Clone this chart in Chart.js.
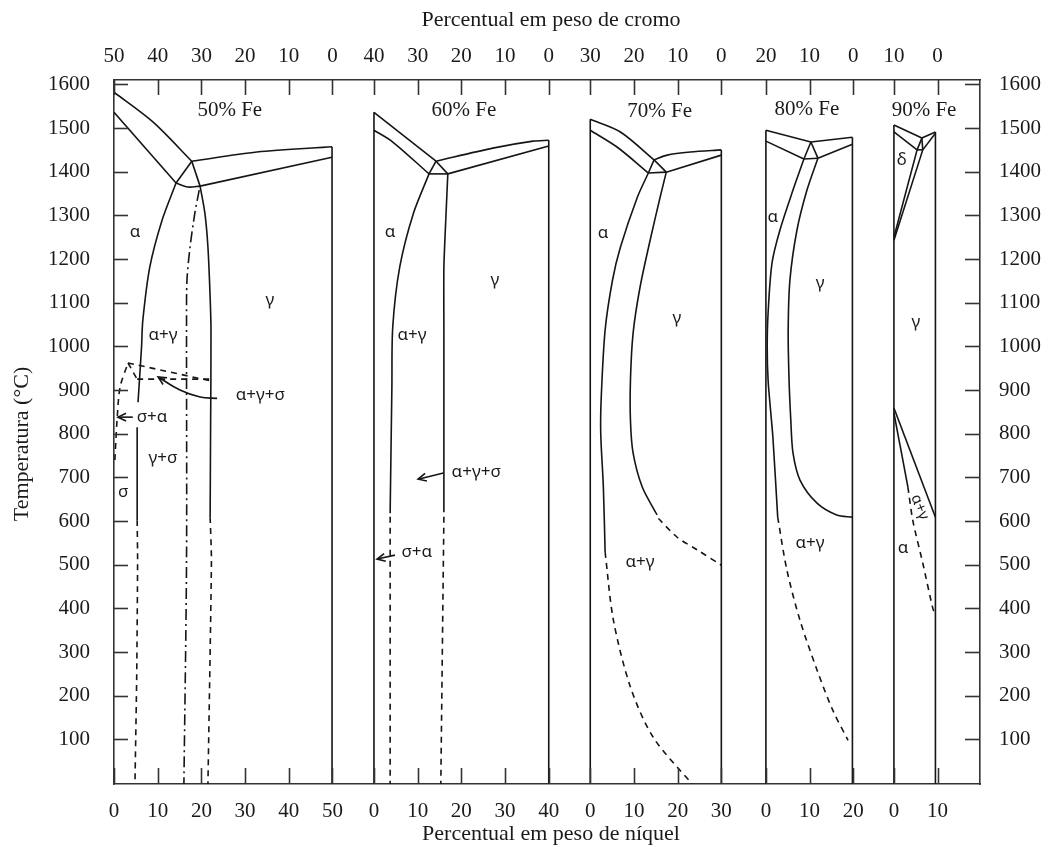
<!DOCTYPE html>
<html>
<head>
<meta charset="utf-8">
<script src="https://cdn.jsdelivr.net/npm/chart.js@4.4.0/dist/chart.umd.min.js"></script>
<style>
  html, body { margin: 0; padding: 0; background: #fff; }
  canvas { display: block; }
</style>
</head>
<body>
<canvas id="chart" width="1054" height="847"></canvas>
<script>
// panels share one x axis, each panel starts at its own offset (Ni units)
const panelOffset = [0, 59.5, 109, 149.2, 178.5];
const panelTitles = ['50% Fe', '60% Fe', '70% Fe', '80% Fe', '90% Fe'];
const niTickValues = [[0, 10, 20, 30, 40, 50], [0, 10, 20, 30, 40], [0, 10, 20, 30], [0, 10, 20], [0, 10]];
const crTickValues = [[50, 40, 30, 20, 10, 0], [40, 30, 20, 10, 0], [30, 20, 10, 0], [20, 10, 0], [10, 0]];
const crTotal = [50, 40, 30, 20, 10];
const tempTicks = [100, 200, 300, 400, 500, 600, 700, 800, 900, 1000, 1100, 1200, 1300, 1400, 1500, 1600];

// [Ni %, T °C]
// 50% Fe
const fe50_liqL = [[0, 1582], [8.9, 1514], [17.8, 1424]];
const fe50_solL = [[0, 1536], [14.2, 1374]];
const fe50_liqR = [[17.8, 1424], [32.7, 1445], [49.9, 1457]];
const fe50_solR = [[19.7, 1367], [49.9, 1433]];
const fe50_tie = [[14.2, 1374], [16.9, 1365], [19.7, 1367]];
const fe50_triL = [[17.8, 1424], [14.2, 1374]];
const fe50_triR = [[17.8, 1424], [19.7, 1367]];
const fe50_edge = [[49.9, 1457], [49.9, -2]];
const fe50_alphaA = [[14.2, 1374], [11, 1289], [8.2, 1182], [6.6, 1060], [6.3, 998], [5.5, 872]];
const fe50_alphaB = [[5.3, 815], [5.3, 602]];
const fe50_alphaDash = [[5.3, 602], [5.4, 510], [5.2, 250], [4.8, -2]];
const fe50_gamma = [[19.7, 1367], [20.8, 1305], [21.5, 1227], [22, 1113], [22.2, 1037], [22.1, 800], [22, 609]];
const fe50_gammaDash = [[22, 609], [22.3, 511], [21.5, -2]];
const fe50_sigmaDot = [[19.5, 1358], [18.5, 1305], [17.4, 1227], [16.7, 1152], [16.6, 1060], [16.6, 511], [16, -2]];
const fe50_sigmaTop = [[3.2, 962], [22.2, 921]];
const fe50_sigmaMid = [[5.3, 925], [22.2, 925]];
const fe50_sigmaLeft = [[0.2, 740], [0.7, 831], [1.4, 907], [3.2, 962]];
const fe50_sigmaNotch = [[3.2, 962], [5.3, 925]];
const fe50_arrow3 = [[23.6, 881], [19.7, 884], [15.1, 900], [10.1, 930]];
const fe50_arrowSA = [[4.3, 838], [0.9, 838]];

// 60% Fe
const fe60_edgeL = [[0, 1536], [0, -2]];
const fe60_liqL = [[0, 1536], [14.2, 1424]];
const fe60_solL = [[0, 1495], [4.3, 1468], [12.6, 1395]];
const fe60_liqR = [[14.2, 1424], [27.2, 1454], [36.4, 1470], [40, 1472]];
const fe60_solR = [[16.9, 1395], [40, 1459]];
const fe60_tie = [[12.6, 1395], [16.9, 1395]];
const fe60_triL = [[14.2, 1424], [12.6, 1395]];
const fe60_triR = [[14.2, 1424], [16.9, 1395]];
const fe60_edgeR = [[40, 1472], [40, -2]];
const fe60_alpha = [[12.6, 1395], [9, 1304], [5.9, 1182], [4.3, 1045], [4.1, 907], [3.7, 618]];
const fe60_alphaDash = [[3.7, 610], [3.7, -2]];
const fe60_gamma = [[16.9, 1395], [16.5, 1305], [16, 1182], [16, 1037], [16, 620]];
const fe60_gammaDash = [[16, 610], [15.3, -2]];
const fe60_arrow3 = [[15.9, 710], [10.1, 696]];
const fe60_arrowSA = [[4.8, 522], [0.7, 513]];

// 70% Fe
const fe70_edgeL = [[0, 1520], [0, -2]];
const fe70_liqL = [[0, 1520], [6.9, 1491], [14.6, 1427]];
const fe70_solL = [[0, 1495], [6.2, 1456], [13.3, 1397]];
const fe70_liqR = [[14.6, 1427], [17.6, 1438], [22.9, 1445], [30, 1450]];
const fe70_solR = [[17.4, 1399], [30, 1438]];
const fe70_tie = [[13.3, 1397], [17.4, 1399]];
const fe70_triL = [[14.6, 1427], [13.3, 1397]];
const fe70_triR = [[14.6, 1427], [17.4, 1399]];
const fe70_edgeR = [[30, 1450], [30, -2]];
const fe70_alpha = [[13.3, 1397], [10.8, 1342], [6.9, 1227], [5.1, 1152], [3.4, 1037], [2.5, 880], [2.4, 800], [3, 678], [3.4, 529]];
const fe70_alphaDash = [[3.4, 529], [5.3, 373], [9.2, 220], [14.4, 105], [23.3, -2]];
const fe70_gamma = [[17.4, 1399], [16, 1342], [13.7, 1243], [11.4, 1136], [9.8, 1030], [9.2, 923], [9.2, 831], [9.8, 756], [11.9, 678], [15.3, 614]];
const fe70_gammaDash = [[15.6, 606], [19.9, 563], [24.5, 534], [30, 499]];

// 80% Fe
const fe80_edgeL = [[0, 1495], [0, -2]];
const fe80_liqL = [[0, 1495], [10.3, 1468]];
const fe80_solL = [[0, 1470], [8.7, 1429]];
const fe80_liqR = [[10.3, 1468], [19.8, 1479]];
const fe80_solR = [[11.9, 1431], [19.8, 1463]];
const fe80_tie = [[8.7, 1429], [11.9, 1431]];
const fe80_triL = [[10.3, 1468], [8.7, 1429]];
const fe80_triR = [[10.3, 1468], [11.9, 1431]];
const fe80_edgeR = [[19.8, 1479], [19.8, -2]];
const fe80_alpha = [[8.7, 1429], [6.2, 1358], [3.2, 1266], [1.4, 1191], [0.5, 1076], [0.3, 998], [0.5, 923], [1.1, 850], [1.6, 792], [2.7, 609]];
const fe80_alphaDash = [[2.7, 609], [4.8, 488], [7.8, 373], [11.7, 259], [15.3, 167], [18.8, 98]];
const fe80_gamma = [[11.9, 1431], [9.4, 1358], [7.1, 1266], [5.5, 1152], [5.1, 1037], [5.3, 923], [5.7, 831], [6.2, 756], [7.8, 694], [11.7, 641], [16.2, 614], [19.8, 609]];

// 90% Fe
const fe90_edgeL = [[0, 1507], [0, -2]];
const fe90_liqL = [[0, 1507], [6.4, 1477]];
const fe90_solL = [[0, 1491], [5.3, 1450]];
const fe90_liqR = [[6.4, 1477], [9.5, 1491]];
const fe90_solR = [[6.6, 1450], [9.5, 1488]];
const fe90_tie = [[5.3, 1450], [6.6, 1450]];
const fe90_triL = [[6.4, 1477], [5.3, 1450]];
const fe90_triR = [[6.4, 1477], [6.6, 1450]];
const fe90_edgeR = [[9.5, 1491], [9.5, -2]];
const fe90_deltaA = [[5.3, 1450], [0, 1250]];
const fe90_deltaB = [[6.6, 1450], [0, 1243]];
const fe90_gammaLow = [[0, 859], [9.5, 609]];
const fe90_alphaLow = [[0, 848], [3.2, 678]];
const fe90_alphaDash = [[3.2, 678], [4.3, 602], [6.6, 504], [8.9, 400], [9.5, 385]];

// phase labels: [panel, Ni, T, text]
const phaseLabels = [
  [0, 4.8, 1262, 'α'], [0, 35.7, 1106, 'γ'], [0, 11.2, 1026, 'α+γ'], [0, 33.5, 888, 'α+γ+σ'],
  [0, 8.7, 838, 'σ+α'], [0, 11.2, 744, 'γ+σ'], [0, 2.1, 666, 'σ'],
  [1, 3.7, 1262, 'α'], [1, 27.7, 1152, 'γ'], [1, 8.7, 1026, 'α+γ'], [1, 23.4, 712, 'α+γ+σ'], [1, 9.8, 529, 'σ+α'],
  [2, 2.9, 1259, 'α'], [2, 19.8, 1065, 'γ'], [2, 11.4, 506, 'α+γ'],
  [3, 1.6, 1296, 'α'], [3, 12.4, 1145, 'γ'], [3, 10.1, 549, 'α+γ'],
  [4, 1.8, 1427, 'δ'], [4, 5, 1056, 'γ'], [4, 2.1, 538, 'α']
];
const titlePos = [[26.5, 1541], [20.6, 1541], [15.9, 1539], [9.4, 1543], [6.9, 1541]];

const S = [], D = [6, 5], DD = [11, 4, 2, 4];
// [panel, points, dash, tension, arrow]
const curves = [
  [0, fe50_liqL, S, 0.3], [0, fe50_solL, S, 0], [0, fe50_liqR, S, 0.3], [0, fe50_solR, S, 0],
  [0, fe50_tie, S, 0.3], [0, fe50_triL, S, 0], [0, fe50_triR, S, 0], [0, fe50_edge, S, 0],
  [0, fe50_alphaA, S, 0.3], [0, fe50_alphaB, S, 0], [0, fe50_alphaDash, D, 0.2],
  [0, fe50_gamma, S, 0.3], [0, fe50_gammaDash, D, 0.2], [0, fe50_sigmaDot, DD, 0.3],
  [0, fe50_sigmaTop, D, 0], [0, fe50_sigmaMid, D, 0], [0, fe50_sigmaLeft, D, 0.3], [0, fe50_sigmaNotch, D, 0],
  [0, fe50_arrow3, S, 0.4, true], [0, fe50_arrowSA, S, 0, true],
  [1, fe60_edgeL, S, 0], [1, fe60_liqL, S, 0], [1, fe60_solL, S, 0.3], [1, fe60_liqR, S, 0.3],
  [1, fe60_solR, S, 0], [1, fe60_tie, S, 0], [1, fe60_triL, S, 0], [1, fe60_triR, S, 0], [1, fe60_edgeR, S, 0],
  [1, fe60_alpha, S, 0.3], [1, fe60_alphaDash, D, 0], [1, fe60_gamma, S, 0.2], [1, fe60_gammaDash, D, 0],
  [1, fe60_arrow3, S, 0, true], [1, fe60_arrowSA, S, 0, true],
  [2, fe70_edgeL, S, 0], [2, fe70_liqL, S, 0.3], [2, fe70_solL, S, 0.3], [2, fe70_liqR, S, 0.3],
  [2, fe70_solR, S, 0], [2, fe70_tie, S, 0], [2, fe70_triL, S, 0], [2, fe70_triR, S, 0], [2, fe70_edgeR, S, 0],
  [2, fe70_alpha, S, 0.3], [2, fe70_alphaDash, D, 0.3], [2, fe70_gamma, S, 0.3], [2, fe70_gammaDash, D, 0.3],
  [3, fe80_edgeL, S, 0], [3, fe80_liqL, S, 0], [3, fe80_solL, S, 0], [3, fe80_liqR, S, 0],
  [3, fe80_solR, S, 0], [3, fe80_tie, S, 0], [3, fe80_triL, S, 0], [3, fe80_triR, S, 0], [3, fe80_edgeR, S, 0],
  [3, fe80_alpha, S, 0.3], [3, fe80_alphaDash, D, 0.3], [3, fe80_gamma, S, 0.3],
  [4, fe90_edgeL, S, 0], [4, fe90_liqL, S, 0], [4, fe90_solL, S, 0], [4, fe90_liqR, S, 0],
  [4, fe90_solR, S, 0], [4, fe90_tie, S, 0], [4, fe90_triL, S, 0], [4, fe90_triR, S, 0], [4, fe90_edgeR, S, 0],
  [4, fe90_deltaA, S, 0], [4, fe90_deltaB, S, 0], [4, fe90_gammaLow, S, 0], [4, fe90_alphaLow, S, 0],
  [4, fe90_alphaDash, D, 0.2]
];

const datasets = curves.map(([p, pts, dash, tension, arrow]) => ({
  data: pts.map(([ni, t]) => ({ x: panelOffset[p] + ni, y: t })),
  showLine: true,
  borderColor: '#151515',
  borderWidth: 1.6,
  borderDash: dash,
  pointRadius: 0,
  tension: tension,
  arrow: !!arrow
}));

const bottomTicks = [], bottomLabels = [], topTicks = [], topLabels = [];
niTickValues.forEach((vals, p) => vals.forEach(v => { bottomTicks.push(panelOffset[p] + v); bottomLabels.push(String(v)); }));
crTickValues.forEach((vals, p) => vals.forEach(v => { topTicks.push(panelOffset[p] + crTotal[p] - v); topLabels.push(String(v)); }));

const serif = 'Liberation Serif';
Chart.defaults.font.family = serif;
Chart.defaults.font.size = 21;
Chart.defaults.color = '#1a1a1a';

const frame = { display: true, color: '#333', width: 1.6 };
const noGrid = { display: false, drawTicks: false };

const overlay = {
  id: 'overlay',
  afterDatasetsDraw(chart) {
    const { ctx, chartArea: a, scales } = chart;
    const x = scales.x, y = scales.y;
    ctx.save();
    ctx.strokeStyle = '#333';
    ctx.lineWidth = 1.6;
    const seg = (x1, y1, x2, y2) => { ctx.beginPath(); ctx.moveTo(x1, y1); ctx.lineTo(x2, y2); ctx.stroke(); };
    tempTicks.forEach(v => {
      const py = Math.round(y.getPixelForValue(v)) + 0.5;
      seg(a.left, py, a.left + 14, py);
      seg(a.right - 15, py, a.right, py);
    });
    bottomTicks.forEach(v => { const px = Math.round(x.getPixelForValue(v)) + 0.5; seg(px, a.bottom, px, a.bottom - 16); });
    topTicks.forEach(v => { const px = Math.round(x.getPixelForValue(v)) + 0.5; seg(px, a.top, px, a.top + 15); });

    // arrowheads
    ctx.strokeStyle = '#151515';
    chart.data.datasets.forEach((ds, i) => {
      if (!ds.arrow) return;
      const pts = chart.getDatasetMeta(i).data;
      const e = pts[pts.length - 1], s = pts[pts.length - 2];
      const ang = Math.atan2(e.y - s.y, e.x - s.x);
      const L = 9, w = 0.45;
      ctx.beginPath();
      ctx.moveTo(e.x - L * Math.cos(ang - w), e.y - L * Math.sin(ang - w));
      ctx.lineTo(e.x, e.y);
      ctx.lineTo(e.x - L * Math.cos(ang + w), e.y - L * Math.sin(ang + w));
      ctx.stroke();
    });

    // panel titles
    ctx.fillStyle = '#1a1a1a';
    ctx.textAlign = 'center';
    ctx.textBaseline = 'middle';
    ctx.font = '21px "' + serif + '"';
    panelTitles.forEach((t, p) => {
      ctx.fillText(t, x.getPixelForValue(panelOffset[p] + titlePos[p][0]), y.getPixelForValue(titlePos[p][1]));
    });

    // phase labels
    ctx.font = '17px "Noto Sans"';
    phaseLabels.forEach(([p, ni, t, txt]) => {
      ctx.fillText(txt, x.getPixelForValue(panelOffset[p] + ni), y.getPixelForValue(t));
    });
    ctx.save();
    ctx.translate(x.getPixelForValue(panelOffset[4] + 5.9), y.getPixelForValue(632));
    ctx.rotate(68 * Math.PI / 180);
    ctx.font = '15px "Noto Sans"';
    ctx.fillText('α+γ', 0, 0);
    ctx.restore();

    // axis titles
    ctx.font = '22px "' + serif + '"';
    const cx = 551;
    ctx.fillText('Percentual em peso de cromo', cx, 20);
    ctx.fillText('Percentual em peso de níquel', cx, 834);
    ctx.save();
    ctx.translate(22, 444);
    ctx.rotate(-Math.PI / 2);
    ctx.fillText('Temperatura (°C)', 0, 0);
    ctx.restore();
    ctx.restore();
  }
};

new Chart(document.getElementById('chart'), {
  type: 'scatter',
  data: { datasets },
  options: {
    responsive: false,
    animation: false,
    layout: { padding: 0 },
    plugins: { legend: { display: false }, tooltip: { enabled: false } },
    scales: {
      x: {
        type: 'linear', position: 'bottom', min: 0, max: 198.2,
        grid: noGrid, border: frame,
        afterBuildTicks: s => { s.ticks = bottomTicks.map(v => ({ value: v })); },
        afterFit: s => { s.height = 63; },
        ticks: { autoSkip: false, maxRotation: 0, padding: 15, callback: (v, i) => bottomLabels[i] }
      },
      x2: {
        type: 'linear', position: 'top', min: 0, max: 198.2,
        grid: noGrid, border: frame,
        afterBuildTicks: s => { s.ticks = topTicks.map(v => ({ value: v })); },
        afterFit: s => { s.height = 80; },
        ticks: { autoSkip: false, maxRotation: 0, padding: 11, callback: (v, i) => topLabels[i] }
      },
      y: {
        type: 'linear', position: 'left', min: -2, max: 1610,
        grid: noGrid, border: frame,
        afterBuildTicks: s => { s.ticks = tempTicks.map(v => ({ value: v })); },
        afterFit: s => { s.width = 114; },
        ticks: { padding: 24, callback: v => String(v) }
      },
      y2: {
        type: 'linear', position: 'right', min: -2, max: 1610,
        grid: noGrid, border: frame,
        afterBuildTicks: s => { s.ticks = tempTicks.map(v => ({ value: v })); },
        afterFit: s => { s.width = 74; },
        ticks: { padding: 19, callback: v => String(v) }
      }
    }
  },
  plugins: [overlay]
});
</script>
</body>
</html>
